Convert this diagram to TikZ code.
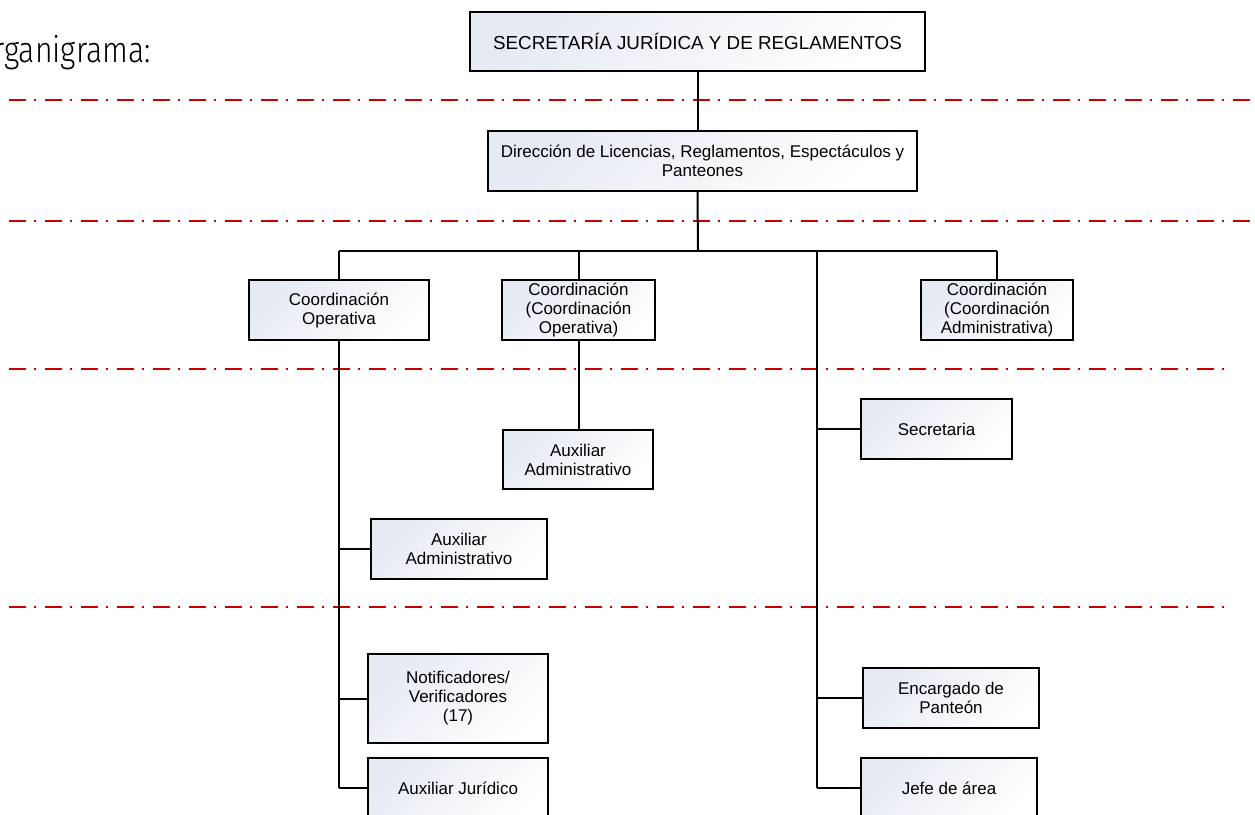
\documentclass[tikz,border=0pt]{standalone}
\usepackage{fontspec}
\setmainfont{Liberation Sans}
\newfontfamily\headfont[FakeStretch=0.84]{Fira Sans Light}
\definecolor{sepred}{RGB}{200,0,0}
\definecolor{boxtint}{RGB}{230,234,243}

\begin{document}
\begin{tikzpicture}[x=1pt, y=-1pt,
    unit/.style={draw=black, line width=1.6pt, top color=boxtint, bottom color=white,
        shading angle=45, align=center, inner sep=2pt, font=\fontsize{17}{19}\selectfont},
    link/.style={line width=2pt},
    sep/.style={draw=sepred, line width=2pt, dash pattern=on 17pt off 8pt on 2pt off 9pt}]
    \useasboundingbox (0,0) rectangle (1255,814);

    % Heading
    \node[anchor=base east, inner sep=0pt, font=\headfont\fontsize{36}{36}\selectfont] (head) at (151,62) {Organigrama:};

    % Level separators
    \draw[sep] (9,100) -- (1255,100);
    \draw[sep] (9,221) -- (1255,221);
    \draw[sep] (9,369) -- (1228,369);
    \draw[sep] (9,607) -- (1228,607);

    % Boxes
    \node[unit, minimum width=455pt, minimum height=59pt, font=\fontsize{18.8}{20}\selectfont] (sjr) at (697.5,41.5) {SECRETARÍA JURÍDICA Y DE REGLAMENTOS};
    \node[unit, minimum width=429pt, minimum height=60pt] (dir) at (702.5,161) {Dirección de Licencias, Reglamentos, Espectáculos y\\Panteones};

    \node[unit, minimum width=180pt, minimum height=60pt] (cop) at (339,310) {Coordinación\\Operativa};
    \node[unit, minimum width=153pt, minimum height=60pt] (cco) at (578.5,310) {Coordinación\\(Coordinación\\Operativa)};
    \node[unit, minimum width=152pt, minimum height=60pt] (cca) at (997,310) {Coordinación\\(Coordinación\\Administrativa)};

    \node[unit, minimum width=150pt, minimum height=59pt] (aux2) at (578,459.5) {Auxiliar\\Administrativo};
    \node[unit, minimum width=151pt, minimum height=60pt] (sec) at (936.5,429) {Secretaria};
    \node[unit, minimum width=176pt, minimum height=60pt] (aux1) at (459,549) {Auxiliar\\Administrativo};

    \node[unit, minimum width=180pt, minimum height=89pt] (notif) at (458,698.5) {Notificadores/\\Verificadores\\(17)};
    \node[unit, minimum width=180pt, minimum height=60pt] (jur) at (458,788) {Auxiliar Jurídico};
    \node[unit, minimum width=176pt, minimum height=60pt] (enc) at (951,698) {Encargado de\\Panteón};
    \node[unit, minimum width=176pt, minimum height=60pt] (jefe) at (949,788) {Jefe de área};

    % Bus points
    \coordinate (bar) at (698,251);
    \coordinate (rbus) at (817,251);

    % Connectors
    \draw[link] (sjr.south) -- (sjr.south |- dir.north);
    \draw[link] (sjr.south |- dir.south) -- (bar);
    \draw[link] (cop.north |- bar) -- (cca.north |- bar);
    \draw[link] (cop.north |- bar) -- (cop.north);
    \draw[link] (cco.north |- bar) -- (cco.north);
    \draw[link] (cca.north |- bar) -- (cca.north);
    \draw[link] (cco.south) -- (cco.south |- aux2.north);

    % Left column
    \draw[link] (cop.south) -- (cop.south |- jur.west);
    \draw[link] (cop.south |- aux1.west) -- (aux1.west);
    \draw[link] (cop.south |- notif.west) -- (notif.west);
    \draw[link] (cop.south |- jur.west) -- (jur.west);

    % Right column
    \draw[link] (rbus) -- (rbus |- jefe.west);
    \draw[link] (rbus |- sec.west) -- (sec.west);
    \draw[link] (rbus |- enc.west) -- (enc.west);
    \draw[link] (rbus |- jefe.west) -- (jefe.west);
\end{tikzpicture}
\end{document}
